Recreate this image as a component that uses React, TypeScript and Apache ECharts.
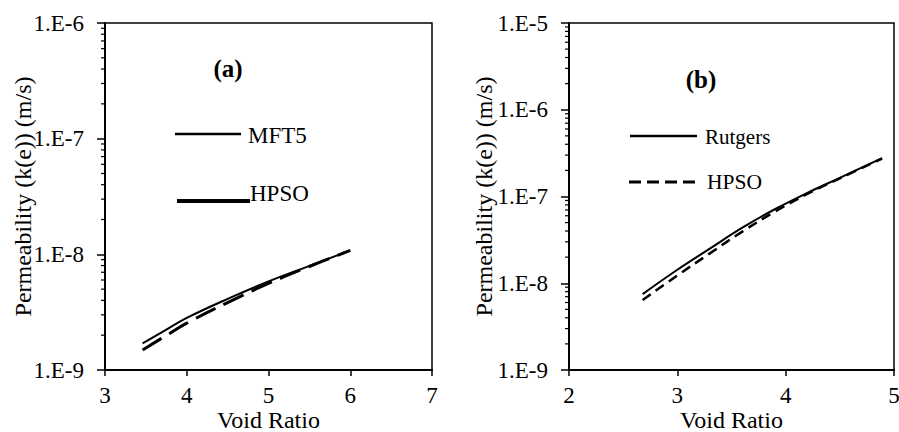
import React, { useEffect, useRef } from "react";
import * as echarts from "echarts";

// Panel (a): MFT5 permeability function vs HPSO fit
const voidRatioA = [3.46, 3.75, 4.0, 4.5, 5.0, 5.5, 6.0];
const mft5 = [1.7e-9, 2.23e-9, 2.82e-9, 4.12e-9, 5.83e-9, 7.94e-9, 1.08e-8];
const hpsoA = [1.49e-9, 1.99e-9, 2.54e-9, 3.83e-9, 5.6e-9, 7.85e-9, 1.08e-8];

// Panel (b): Rutgers permeability function vs HPSO fit
const voidRatioB = [2.68, 3.0, 3.3, 3.6, 3.9, 4.2, 4.5, 4.89];
const rutgers = [7.5e-9, 1.43e-8, 2.51e-8, 4.37e-8, 7.13e-8, 1.1e-7, 1.64e-7, 2.77e-7];
const hpsoB = [6.4e-9, 1.23e-8, 2.21e-8, 3.94e-8, 6.68e-8, 1.07e-7, 1.62e-7, 2.74e-7];

// Axis ranges
const xRangeA = [3, 7];
const xRangeB = [2, 5];
const yRangeA = [1e-9, 1e-6];
const yRangeB = [1e-9, 1e-5];
const minorMantissas = [2, 3, 4, 5, 6, 7, 8, 9];

const FONT = "'Liberation Serif', 'Times New Roman', serif";

function minorTickValues(range: number[]) {
  const out: number[] = [];
  const lo = Math.round(Math.log10(range[0]));
  const hi = Math.round(Math.log10(range[1]));
  for (let e = lo; e < hi; e++) {
    for (const m of minorMantissas) out.push(m * Math.pow(10, e));
  }
  return out;
}

function pairs(xs: number[], ys: number[]) {
  return xs.map((x, i) => [x, ys[i]]);
}

const expLabel = (v: number) => "1.E" + Math.round(Math.log10(v));

function xAxisFor(gridIndex: number, range: number[]) {
  return {
    type: "value",
    gridIndex,
    min: range[0],
    max: range[1],
    interval: 1,
    name: "Void Ratio",
    nameLocation: "middle",
    nameGap: 38,
    nameMoveOverlap: false,
    nameTextStyle: { fontFamily: FONT, fontSize: 24, color: "#000" },
    axisLine: { show: true, lineStyle: { color: "#000", width: 2 } },
    axisTick: { show: true, length: 6, lineStyle: { color: "#000", width: 1.5 } },
    axisLabel: { fontFamily: FONT, fontSize: 23, color: "#000", margin: 14 },
    splitLine: { show: false },
  };
}

function yAxisFor(gridIndex: number, range: number[], nameGap: number) {
  return {
    type: "log",
    logBase: 10,
    gridIndex,
    min: range[0],
    max: range[1],
    name: "Permeability (k(e)) (m/s)",
    nameLocation: "middle",
    nameGap,
    nameMoveOverlap: false,
    nameTextStyle: { fontFamily: FONT, fontSize: 24, color: "#000" },
    axisLine: { show: true, lineStyle: { color: "#000", width: 2 } },
    axisTick: { show: true, length: 8, lineStyle: { color: "#000", width: 1.5 } },
    axisLabel: { fontFamily: FONT, fontSize: 23, color: "#000", margin: 21, formatter: expLabel },
    splitLine: { show: false },
  };
}

function minorTickSeries(axisIndex: number, xMin: number, range: number[]) {
  return {
    type: "custom",
    xAxisIndex: axisIndex,
    yAxisIndex: axisIndex,
    clip: false,
    silent: true,
    data: minorTickValues(range).map((v) => [xMin, v]),
    renderItem: (_params: any, api: any) => {
      const p = api.coord([api.value(0), api.value(1)]);
      return {
        type: "line",
        shape: { x1: p[0] - 4, y1: p[1], x2: p[0], y2: p[1] },
        style: { stroke: "#000", lineWidth: 1.2 },
      };
    },
  };
}

function lineSeries(axisIndex: number, name: string, xs: number[], ys: number[], width: number, type: any) {
  return {
    type: "line",
    name,
    xAxisIndex: axisIndex,
    yAxisIndex: axisIndex,
    data: pairs(xs, ys),
    smooth: 0.4,
    showSymbol: false,
    lineStyle: { color: "#000", width, type },
  };
}

function legendText(text: string, x: number, y: number, size: number, bold = false) {
  return {
    type: "text",
    x,
    y,
    style: {
      text,
      fill: "#000",
      fontFamily: FONT,
      fontSize: size,
      fontWeight: bold ? "bold" : "normal",
      verticalAlign: "middle",
      align: bold ? "center" : "left",
    },
  };
}

function legendLine(x1: number, x2: number, y: number, width: number, dash?: number[]) {
  return {
    type: "line",
    shape: { x1, y1: y, x2, y2: y },
    style: { stroke: "#000", lineWidth: width, lineDash: dash },
  };
}

export default function App() {
  const ref = useRef<HTMLDivElement>(null);

  useEffect(() => {
    if (!ref.current) return;
    const chart = echarts.init(ref.current, undefined, { renderer: "svg" });
    chart.setOption({
      animation: false,
      backgroundColor: "#fff",
      grid: [
        {
          left: 105, top: 23, width: 327, height: 347,
          outerBoundsMode: "none", containLabel: false,
          show: true, borderColor: "#000", borderWidth: 1.5,
        },
        {
          left: 569, top: 23, width: 325, height: 347,
          outerBoundsMode: "none", containLabel: false,
          show: true, borderColor: "#000", borderWidth: 1.5,
        },
      ],
      xAxis: [xAxisFor(0, xRangeA), xAxisFor(1, xRangeB)],
      yAxis: [yAxisFor(0, yRangeA, 70), yAxisFor(1, yRangeB, 73)],
      series: [
        minorTickSeries(0, xRangeA[0], yRangeA),
        minorTickSeries(1, xRangeB[0], yRangeB),
        lineSeries(0, "MFT5", voidRatioA, mft5, 2, "solid"),
        lineSeries(0, "HPSO", voidRatioA, hpsoA, 3, [22, 9]),
        lineSeries(1, "Rutgers", voidRatioB, rutgers, 2, "solid"),
        lineSeries(1, "HPSO", voidRatioB, hpsoB, 2.5, [10, 6]),
      ],
      graphic: [
        legendText("(a)", 228, 68, 25, true),
        legendLine(175, 241, 134, 2.3),
        legendText("MFT5", 248, 135, 23),
        legendLine(177, 250, 201, 4),
        legendText("HPSO", 250, 193, 23),
        legendText("(b)", 701, 79, 25, true),
        legendLine(630, 697, 136, 2.3),
        legendText("Rutgers", 705, 137, 21),
        legendLine(629, 697, 182, 2.8, [12, 6]),
        legendText("HPSO", 707, 182, 21.5),
      ],
    });
    return () => chart.dispose();
  }, []);

  return (
    <div
      ref={ref}
      style={{ position: "fixed", left: 0, top: 0, width: 899, height: 432, background: "#fff" }}
    />
  );
}
